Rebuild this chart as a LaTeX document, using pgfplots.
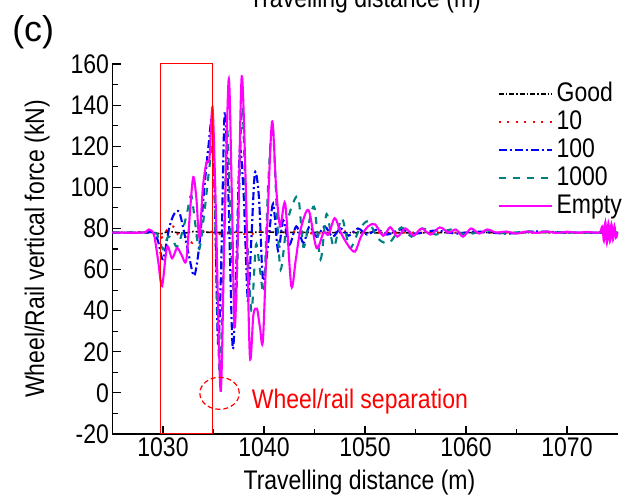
\documentclass[border=0pt]{standalone}
\usepackage{pgfplots}
\pgfplotsset{compat=1.18}
\usepackage{fontspec}
\setmainfont{Liberation Sans}[FakeStretch=0.855]
\newfontfamily\wide{Liberation Sans}
\definecolor{cteal}{RGB}{0,128,128}
\definecolor{cmag}{RGB}{255,0,255}
\newcommand{\fs}{\fontsize{27}{32}\selectfont}
\begin{document}
\begin{tikzpicture}
\begin{axis}[
  scale only axis, width=505bp, height=370bp,
  xmin=1025, xmax=1075, ymin=-20, ymax=160,
  enlargelimits=false, clip=false,
  axis lines=left, axis line style={-, line width=1.3bp},
  tick align=inside, major tick length=8bp, minor tick length=5bp,
  every tick/.style={line width=1.2bp, black},
  xtick={1030,1040,...,1070}, ytick={-20,0,...,160},
  minor tick num=1,
  /pgf/number format/assume math mode=true,
  /pgf/number format/1000 sep={},
  tick label style={font=\fs},
  label style={font=\fs},
  xlabel={Travelling distance (m)},
  ylabel={Wheel/Rail vertical force (kN)},
  xlabel style={at={(axis description cs:0.489,-0.149)}, anchor=base},
  ylabel style={at={(axis description cs:-0.149,0.5)}, anchor=center},
  legend image code/.code={\draw[#1] (0bp,0bp) -- (53bp,0bp);},
  legend cell align=left,
  legend style={at={(rel axis cs:0.762,0.957)}, anchor=north west, draw=none, fill=none,
    font=\fs, row sep=0bp, inner sep=0bp,
    nodes={inner xsep=4bp, inner ysep=2bp, text height=19bp, text depth=5bp}},
]
\addplot[black, line width=1.6bp, dash pattern=on 5bp off 2bp on 1.5bp off 2bp] coordinates {
(1025,78) (1029,78) (1029.8,77.3) (1030.5,78.6) (1032,77.6) (1033,78.5) (1035,78) (1040,78.2) (1050,77.9) (1075,78)};
\addlegendentry{Good}
\addplot[red, line width=2.1bp, dash pattern=on 2bp off 6.5bp, smooth, tension=0.5] coordinates {
(1025,78) (1029.0,78) (1029.6,75.5) (1030.0,76) (1030.5,80) (1031.0,81) (1031.5,77) (1032.2,76) (1032.9,73) (1033.5,77) (1034.2,79) (1035.0,78) (1036.0,77) (1037.0,78.5) (1038.5,77) (1040.0,79) (1041.5,77.5) (1043,78.5) (1045,77.5) (1048,78.5) (1052,78) (1075,78)};
\addlegendentry{10}
\addplot[blue, line width=2.1bp, dash pattern=on 8bp off 3bp on 2bp off 3bp, smooth, tension=0.5] coordinates {
(1025,78) (1028.5,78) (1029.0,79) (1029.5,74) (1030.0,65) (1030.6,80) (1031.1,87) (1031.6,88) (1032.1,78) (1032.6,66) (1033.1,57) (1033.6,72) (1034.1,100) (1034.5,120) (1034.9,134) (1035.15,90) (1035.45,24) (1035.75,60) (1036.1,136) (1036.45,100) (1036.9,22) (1037.25,60) (1037.6,118) (1038.0,95) (1038.4,45) (1038.75,75) (1039.1,107) (1039.5,95) (1039.9,55) (1040.4,72) (1040.9,92) (1041.4,69) (1041.9,84) (1042.5,72) (1043.2,81) (1043.9,73) (1044.5,81) (1045.2,76) (1046.0,81) (1046.8,76) (1047.6,80) (1048.4,76.5) (1049.3,80) (1050.2,77) (1051.2,79.5) (1052.2,77) (1053.5,79.5) (1055,77.5) (1057,79) (1059,77.5) (1061,78.5) (1064,77.5) (1067,78.5) (1070,78) (1075,78)};
\addlegendentry{100}
\addplot[cteal, line width=2.1bp, dash pattern=on 7bp off 7bp, smooth, tension=0.5] coordinates {
(1025,78) (1029.0,78) (1029.5,76) (1030.0,70) (1030.5,76) (1031.0,74) (1031.4,71) (1031.9,78) (1032.4,88) (1032.8,96) (1033.2,82) (1033.6,70) (1034.1,88) (1034.6,110) (1034.95,122) (1035.25,70) (1035.6,10) (1035.95,55) (1036.35,128) (1036.75,70) (1037.2,42) (1037.5,90) (1037.85,139) (1038.25,85) (1038.75,40) (1039.2,72) (1039.6,60) (1040.0,50) (1040.4,100) (1040.85,130) (1041.3,85) (1041.65,60) (1042.2,80) (1042.7,90) (1043.4,95) (1043.9,71) (1044.5,84) (1045.0,90) (1045.6,65) (1046.2,87) (1046.9,71) (1047.7,85) (1048.5,70.5) (1049.4,79) (1050.3,83.5) (1051.3,75) (1052.4,73) (1053.6,80.5) (1054.6,76) (1055.7,80) (1057,77) (1058.5,79.5) (1060,77) (1062,79) (1064,77.5) (1066,78.5) (1070,78) (1075,78)};
\addlegendentry{1000}
\addplot[cmag, line width=2.1bp, smooth, tension=0.5] coordinates {
(1025,78) (1028.0,78) (1028.6,79.5) (1029.1,77) (1029.5,65) (1029.9,52) (1030.4,71) (1030.9,65.5) (1031.4,70.5) (1031.85,67) (1032.3,64.5) (1032.7,90) (1033.0,105) (1033.3,95) (1033.6,75.5) (1033.95,100) (1034.3,112) (1034.6,114) (1034.9,139) (1035.2,95) (1035.7,1) (1036.05,70) (1036.5,152.5) (1036.8,100) (1037.1,32) (1037.45,85) (1037.8,154) (1038.2,100) (1038.6,18) (1038.95,38) (1039.3,41) (1039.6,32) (1039.9,26) (1040.35,85) (1040.8,132) (1041.2,100) (1041.6,81) (1042.1,92) (1042.7,52) (1043.15,65) (1043.6,79) (1044.4,89) (1045.2,70.5) (1045.9,78) (1046.4,77) (1047.0,85) (1047.6,78) (1048.3,72) (1049.0,68.7) (1049.6,76) (1050.3,81) (1051.0,82) (1051.8,76.4) (1052.5,80.6) (1053.2,76) (1054.0,80) (1054.8,76.5) (1055.6,80) (1056.5,77) (1057.4,80.5) (1058.3,78) (1059.0,79.5) (1059.7,76) (1060.5,80) (1061.3,77.5) (1062.1,79.5) (1063.0,78) (1064,78.5) (1065,77.5) (1066,78.5) (1067,77.8) (1068,78.5) (1069,77.8) (1070,78.4) (1071,77.9) (1072,78.3) (1073.2,78) (1073.5,81) (1073.65,74) (1073.8,83) (1073.95,73) (1074.1,82.5) (1074.25,74) (1074.4,82) (1074.55,74.5) (1074.7,81) (1074.85,75.5) (1075,78)};
\addlegendentry{Empty}
\draw[red, line width=1bp] (axis cs:1029.77,-20) rectangle (axis cs:1034.92,160);
\draw[red, line width=1.2bp, dash pattern=on 5bp off 3bp] (axis cs:1035.6,-0.2) ellipse [x radius=19.7bp, y radius=16bp];
\node[red, anchor=base west, inner sep=0pt, font=\fs] at (axis cs:1038.78,-7.45) {Wheel/rail separation};
\node[anchor=base, inner sep=0pt, font=\wide\fontsize{36}{42}\selectfont] at (rel axis cs:-0.157,1.0595) {(c)};
\node[anchor=base, inner sep=0pt, font=\fs] at (rel axis cs:0.5,1.154) {Travelling distance (m)};
\coordinate (BL) at (rel axis cs:0,0);
\coordinate (TR) at (rel axis cs:1,1);
\end{axis}
\pgfresetboundingbox
\path[use as bounding box] ([xshift=-112.5bp,yshift=-62bp]BL) rectangle ([xshift=7.5bp,yshift=64bp]TR);
\end{tikzpicture}
\end{document}
